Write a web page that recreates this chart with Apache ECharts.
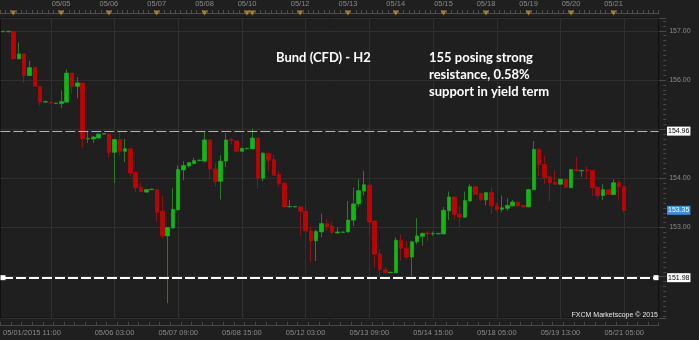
<!DOCTYPE html>
<html><head><meta charset="utf-8">
<script src="https://cdn.jsdelivr.net/npm/echarts@6/dist/echarts.min.js"></script>
<style>html,body{margin:0;padding:0;background:#1f1f1f;}#c{width:699px;height:340px;}</style>
</head><body><div id="c"></div>
<script>
// ---- data (H2 bars) ----
const opens = [156.98,156.98,156.99,156.43,156.53,156.09,156.25,155.87,155.55,155.55,
155.52,155.52,155.55,156.14,155.87,155.94,154.80,154.80,154.82,154.90,
154.90,154.53,154.79,154.55,154.60,154.12,153.82,153.72,153.77,153.77,
153.33,152.83,152.99,153.36,154.17,154.25,154.30,154.36,154.35,154.78,
154.19,153.94,154.35,154.79,154.76,154.55,154.60,154.60,154.82,154.00,
154.51,154.38,154.08,153.90,153.42,153.42,153.42,153.33,152.93,152.73,
152.91,153.08,153.03,152.89,152.90,152.91,153.15,153.48,153.74,153.86,
153.13,152.46,152.14,152.08,152.08,152.74,152.58,152.40,152.71,152.82,
152.89,152.87,152.87,152.87,153.34,153.62,153.27,153.21,153.54,153.83,
153.69,153.56,153.71,153.44,153.37,153.39,153.44,153.52,153.45,153.42,
153.77,154.59,154.28,154.03,153.92,153.88,153.98,153.81,154.18,154.15,
154.17,154.16,153.82,153.65,153.77,153.67,153.91,153.83];
const closes = [156.99,156.99,156.43,156.53,156.09,156.25,155.87,155.55,155.56,155.53,
155.53,155.56,156.14,155.87,155.94,154.80,154.81,154.84,154.90,154.91,
154.53,154.79,154.55,154.60,154.11,153.81,153.73,153.77,153.78,153.31,
152.83,153.00,153.37,154.18,154.26,154.32,154.36,154.37,154.78,154.19,
153.94,154.35,154.78,154.77,154.55,154.61,154.61,154.82,154.00,154.51,
154.37,154.06,153.89,153.42,153.43,153.43,153.33,152.93,152.73,152.92,
153.08,153.02,152.90,152.91,152.91,153.15,153.48,153.75,153.87,153.11,
152.46,152.14,152.08,152.09,152.74,152.58,152.40,152.71,152.83,152.88,
152.87,152.88,152.88,153.35,153.62,153.27,153.21,153.55,153.83,153.67,
153.56,153.71,153.44,153.37,153.40,153.45,153.52,153.44,153.42,153.77,
154.59,154.28,154.02,153.91,153.88,153.98,153.82,154.18,154.15,154.16,
154.15,153.81,153.65,153.77,153.67,153.91,153.83,153.35];
const lows = [156.97,156.97,156.42,156.42,155.94,156.08,155.86,155.48,155.53,155.52,
155.51,155.43,155.54,155.72,155.63,154.63,154.72,154.72,154.80,154.89,
154.42,153.90,154.46,154.33,154.04,153.72,153.72,153.71,153.76,153.13,
152.78,151.46,152.98,153.35,153.96,154.22,154.29,154.35,154.32,153.98,
153.83,153.57,154.23,154.69,154.54,154.54,154.59,154.59,153.79,153.94,
154.15,154.05,153.83,153.40,153.41,153.41,152.83,152.92,152.29,152.32,
152.80,152.94,152.86,152.88,152.89,152.90,153.03,153.42,153.65,152.84,
152.19,152.01,152.07,152.07,152.07,152.33,152.36,152.01,152.66,152.63,
152.71,152.83,152.86,152.86,153.15,153.18,153.01,153.20,153.52,153.66,
153.55,153.45,153.27,153.32,153.31,153.34,153.43,153.43,153.41,153.41,
153.76,154.04,153.88,153.54,153.87,153.87,153.81,153.80,154.14,154.03,
153.98,153.64,153.57,153.56,153.66,153.66,153.56,153.30];
const highs = [157.00,157.00,157.00,156.76,156.55,156.39,156.27,155.88,155.58,155.56,
155.54,155.79,156.21,156.15,156.06,155.95,154.95,154.86,154.91,154.92,
154.91,154.80,154.97,154.80,154.62,154.13,153.91,153.78,153.79,153.78,
153.64,153.01,153.80,154.26,154.35,154.33,154.42,154.38,154.96,154.79,
154.32,154.47,154.92,154.82,154.77,154.62,154.62,155.01,154.83,154.53,
154.52,154.48,154.15,153.91,153.56,153.44,153.43,153.50,153.02,152.96,
153.28,153.17,153.12,153.00,152.92,153.54,153.81,153.98,154.15,153.87,
153.14,152.56,152.19,152.10,152.80,152.86,152.73,152.73,153.19,152.90,
152.93,152.92,152.89,153.42,153.73,153.64,153.42,153.73,153.88,153.84,
153.71,153.72,153.82,153.50,153.65,153.59,153.56,153.53,153.45,153.79,
154.76,154.60,154.46,154.04,154.15,153.99,153.99,154.19,154.44,154.18,
154.24,154.17,153.83,153.88,153.78,153.98,153.96,153.85];

const slotCount = 124; // bar slots on the time axis (incl. empty space on the right)
const categories = Array.from({length: slotCount}, (_, i) => String(i));
const bottomTicks = [[0,'05/01/2015 11:00'],[21,'05/06 03:00'],[33,'05/07 09:00'],[45,'05/08 15:00'],
  [57,'05/12 03:00'],[69,'05/13 09:00'],[81,'05/14 15:00'],[93,'05/18 05:00'],[105,'05/19 13:00'],[117,'05/21 05:00']];
const gridLineSlots = [9,21,33,45,57,69,81,93,105,117];
const dayMarks = [[2,''],[11,'05/05'],[20,'05/06'],[29,'05/07'],[38,'05/08'],[46,'05/10'],[47,''],
  [56,'05/12'],[65,'05/13'],[74,'05/14'],[83,'05/15'],[91,'05/18'],[99,'05/19'],[107,'05/20'],[115,'05/21']];
const priceTickLabels = ['157.00','156.00','154.00','153.00'];
const resistanceLevel = 154.96;
const supportLevel = 151.98;
const lastPrice = 153.35;
const titleText = 'Bund (CFD) - H2';
const noteLines = ['155 posing strong', 'resistance, 0.58%', 'support in yield term'];
const creditText = 'FXCM Marketscope \u00A9 2015';

// ---- chart ----
const bottomMap = new Map(bottomTicks);
const gridSet = new Set(gridLineSlots);
const dayMap = new Map(dayMarks);
const ohlc = opens.map((o, i) => [o, closes[i], lows[i], highs[i]]);
const bodies = opens.map((o, i) => [o, closes[i], Math.min(o, closes[i]), Math.max(o, closes[i])]);
const axisFont = 'Liberation Sans';
const boxLabel = (level, bg, fg, dist) => ({
  show: true, position: 'end', distance: dist, formatter: () => level.toFixed(2),
  backgroundColor: bg, color: fg, fontSize: 7, fontFamily: axisFont, lineHeight: 9, padding: [0, 1]
});

const chart = echarts.init(document.getElementById('c'), null, {renderer: 'canvas'});
chart.setOption({
  animation: false,
  backgroundColor: '#1f1f1f',
  title: [
    {text: titleText, left: 276, top: 49, padding: 0,
     textStyle: {color: '#ffffff', fontSize: 13, fontWeight: 'bold', fontFamily: 'Lato', lineHeight: 17}},
    {text: noteLines.join('\n'), left: 429, top: 49, padding: 0,
     textStyle: {color: '#ffffff', fontSize: 13, fontWeight: 'bold', fontFamily: 'Lato', lineHeight: 17}},
    {text: creditText, right: 41, top: 311, padding: 0,
     textStyle: {color: '#e8e8e8', fontSize: 7, fontWeight: 'normal', fontFamily: axisFont, lineHeight: 8}}
  ],
  grid: [
    {left: -1.5, right: 40.3, top: 18, bottom: 22, show: true, borderColor: '#0e0e0e', borderWidth: 1, backgroundColor: 'transparent'},
    {left: -1.5, right: 40.3, top: 10, height: 6}
  ],
  xAxis: [
    {type: 'category', gridIndex: 0, data: categories, boundaryGap: true, position: 'bottom', offset: 7,
     axisLine: {show: true, lineStyle: {color: '#474747'}},
     axisTick: {show: true, inside: true, length: 3, interval: 1, lineStyle: {color: '#474747'}},
     axisLabel: {show: true, interval: (i) => bottomMap.has(i), formatter: (v) => bottomMap.get(Number(v)) || '',
       color: '#8a8a8a', fontSize: 7.5, fontFamily: axisFont, margin: 4, alignMinLabel: 'left'},
     splitLine: {show: true, interval: (i) => gridSet.has(i), alignWithLabel: true, lineStyle: {color: '#2f2f2f', width: 1}}},
    {type: 'category', gridIndex: 1, data: categories, boundaryGap: true, position: 'bottom',
     axisLine: {show: true, lineStyle: {color: '#4d4d4d'}},
     axisTick: {show: true, inside: true, length: 3, interval: 0, lineStyle: {color: '#4d4d4d'}},
     axisLabel: {show: false}, splitLine: {show: false}},
    {type: 'category', gridIndex: 1, data: categories, boundaryGap: true, position: 'top',
     axisLine: {show: false}, axisTick: {show: false}, splitLine: {show: false},
     axisLabel: {show: true, interval: (i) => !!dayMap.get(i), formatter: (v) => dayMap.get(Number(v)) || '',
       color: '#8a8a8a', fontSize: 7.5, fontFamily: axisFont, margin: 2}}
  ],
  yAxis: [
    {type: 'value', gridIndex: 0, position: 'right', min: 151.16, max: 157.26, offset: 7.5,
     axisLine: {show: false},
     axisTick: {show: true, inside: true, length: 7, lineStyle: {color: '#4a4a4a'}},
     minorTick: {show: true, splitNumber: 10, length: 3, lineStyle: {color: '#4a4a4a'}},
     splitLine: {show: true, lineStyle: {color: '#2f2f2f', width: 1}},
     axisLabel: {show: true, color: '#8a8a8a', fontSize: 7, fontFamily: axisFont, margin: 3,
       formatter: (v) => priceTickLabels.includes(v.toFixed(2)) ? v.toFixed(2) : ''}},
    {type: 'value', gridIndex: 1, min: -1, max: 1, show: false}
  ],
  series: [
    {type: 'candlestick', name: 'wicks', xAxisIndex: 0, yAxisIndex: 0, data: ohlc, barWidth: 4, z: 2, silent: true,
     itemStyle: {color: '#2b7a2b', color0: '#8e1212', borderColor: '#2b7a2b', borderColor0: '#8e1212', borderWidth: 1}},
    {type: 'candlestick', name: 'bodies', xAxisIndex: 0, yAxisIndex: 0, data: bodies, barWidth: 4, z: 3, silent: true,
     itemStyle: {color: '#0cbc0c', color0: '#c20000', borderColor: '#0cbc0c', borderColor0: '#c20000', borderWidth: 0},
     markLine: {silent: true, symbol: 'none', animation: false,
       data: [
         {yAxis: resistanceLevel,
          lineStyle: {color: '#b4b4b4', width: 1, type: [10, 3]},
          label: boxLabel(resistanceLevel, '#ffffff', '#000000', 8.3)},
         [{coord: [0, supportLevel], symbol: 'rect', symbolSize: 5,
           lineStyle: {color: '#ffffff', width: 2, type: [10, 3]},
           label: boxLabel(supportLevel, '#ffffff', '#000000', 11)},
          {coord: [slotCount - 1, supportLevel], symbol: 'rect', symbolSize: 5}],
         {yAxis: lastPrice,
          lineStyle: {color: 'rgba(0,0,0,0)', width: 0},
          label: boxLabel(lastPrice, '#3b8ee0', '#ffffff', 8.3)}
       ]}},
    {type: 'scatter', name: 'day starts', xAxisIndex: 1, yAxisIndex: 1, silent: true, z: 4,
     data: dayMarks.map(d => [d[0], 0]), symbol: 'triangle', symbolRotate: 180, symbolSize: [6, 5],
     itemStyle: {color: '#c99a26'}}
  ]
});
</script></body></html>
